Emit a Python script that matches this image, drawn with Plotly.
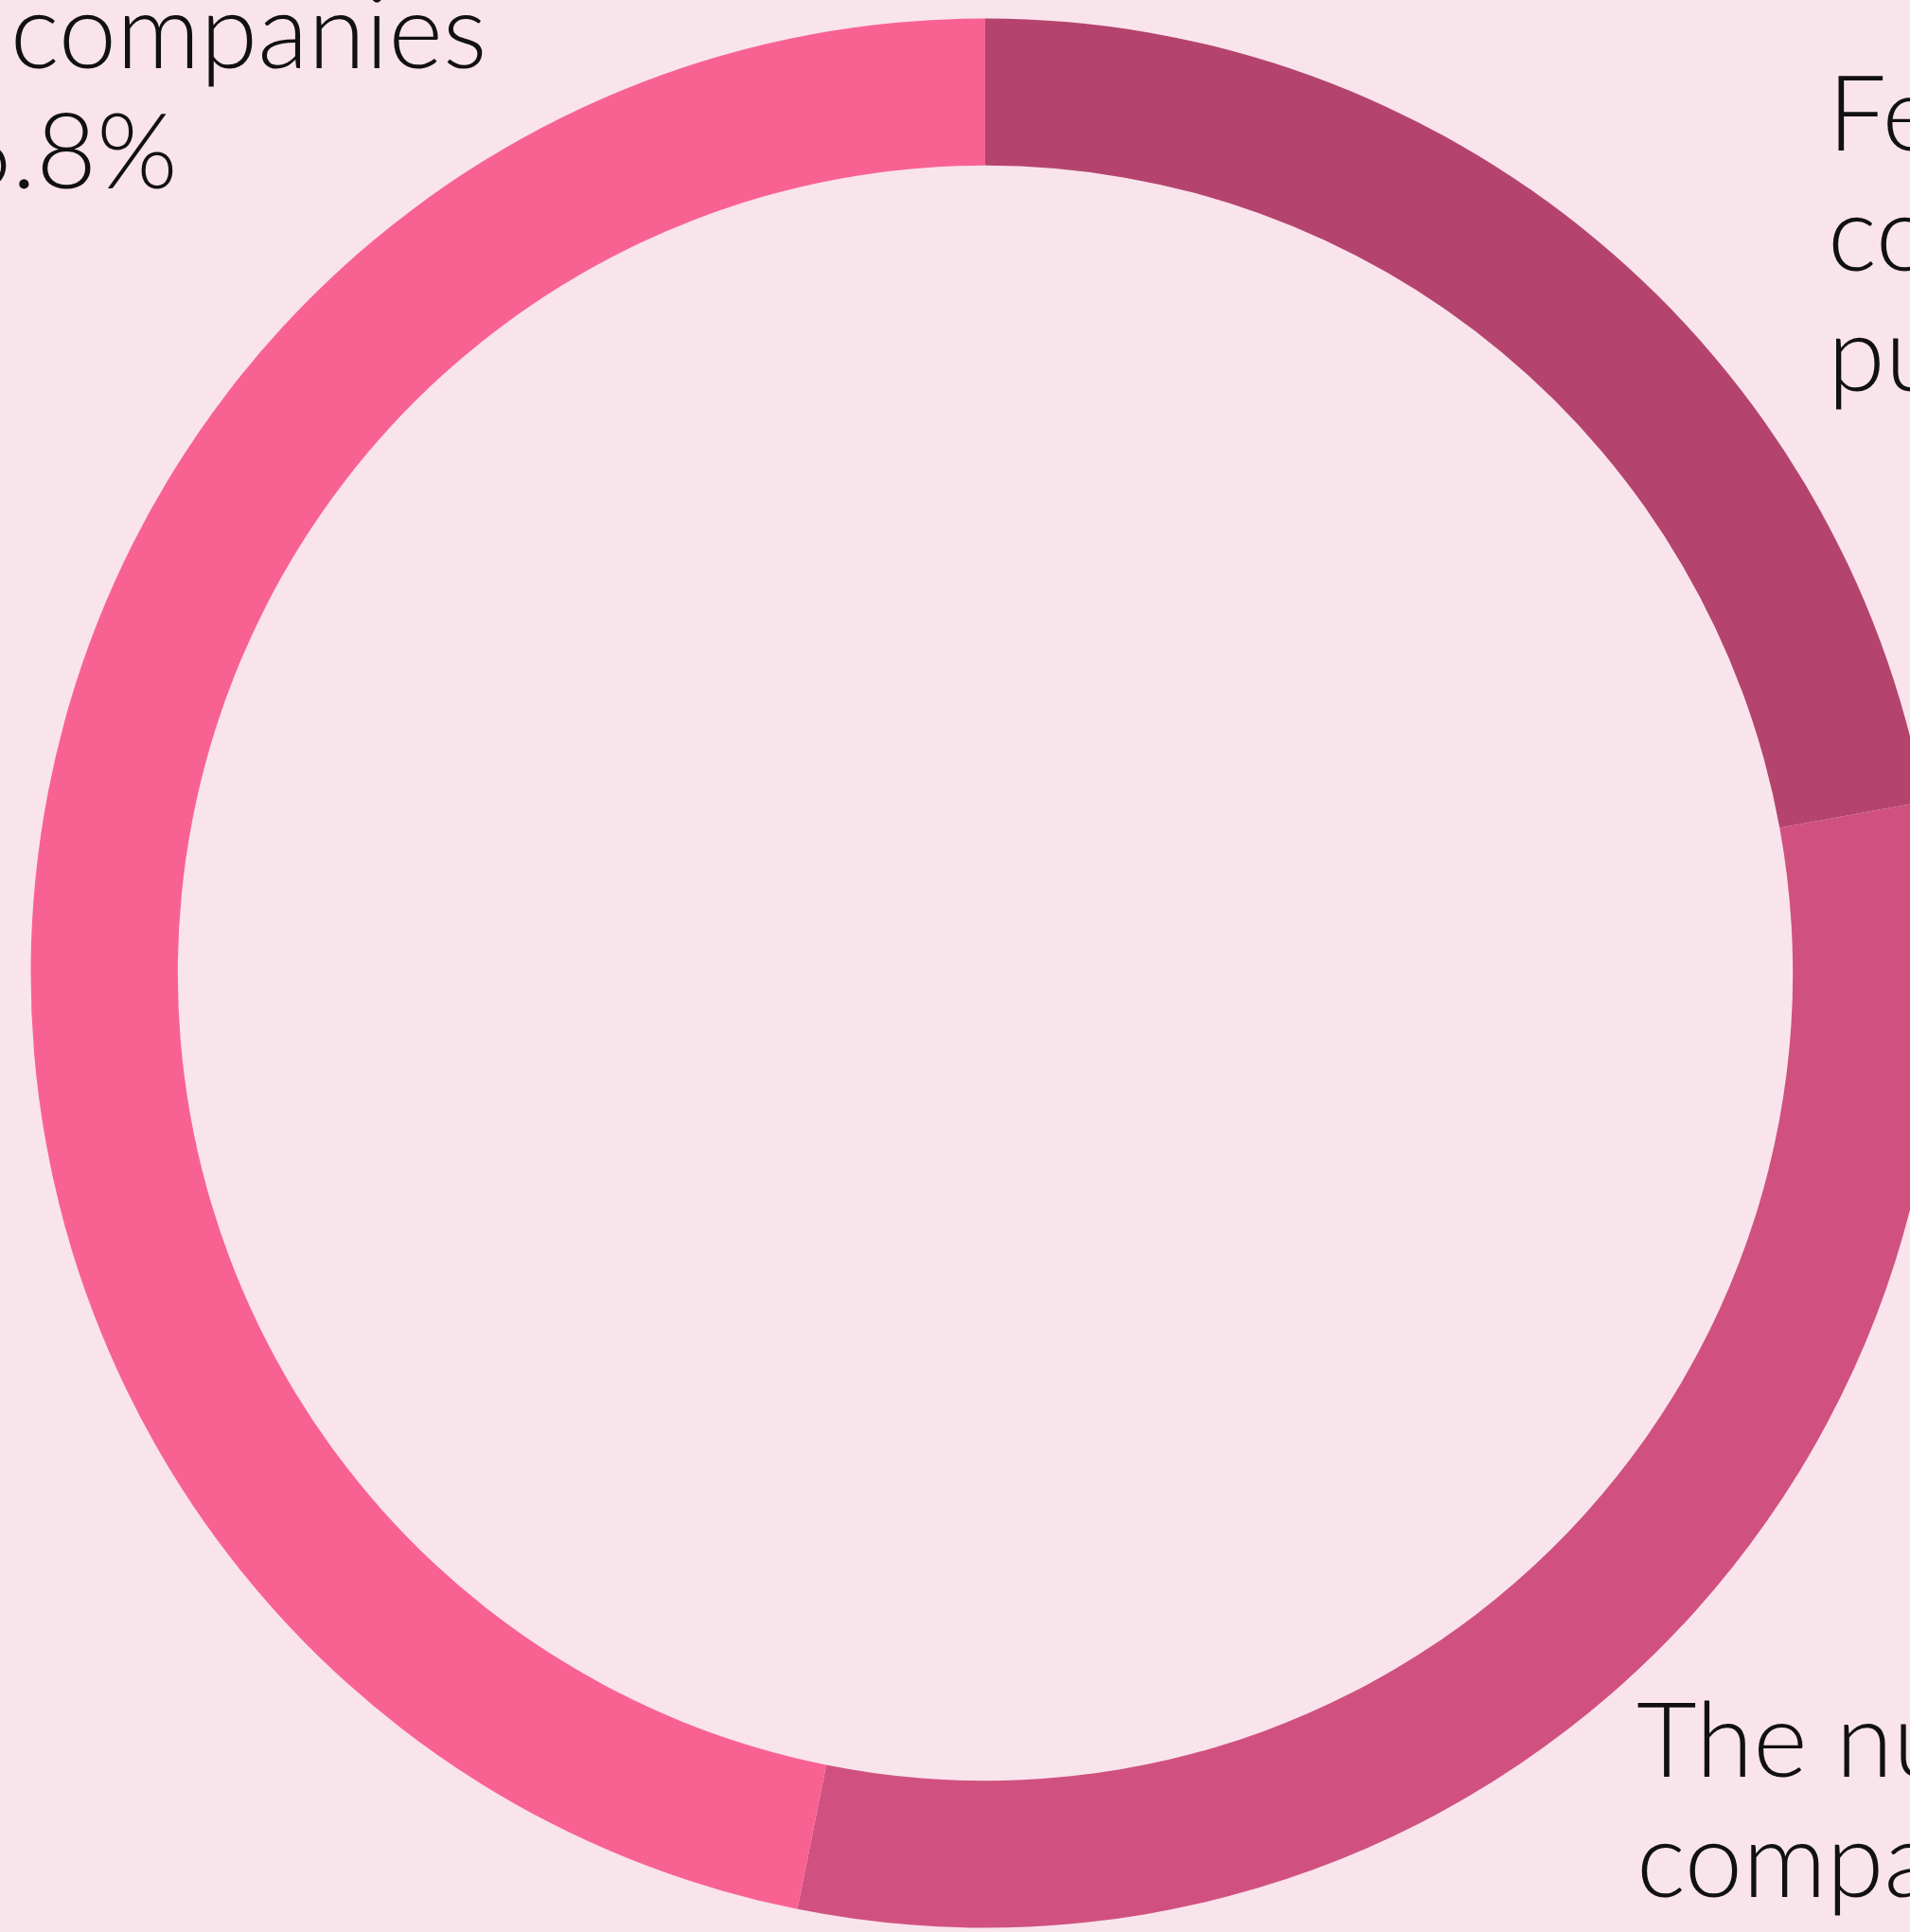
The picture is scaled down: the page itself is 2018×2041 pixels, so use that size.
import plotly.graph_objects as go

# ---- data ----
categories = ["Female-led companies", "The number of companies", "Other companies"]
values = [22.1, 31.0, 46.8]

right_label_lines = ["Female-led", "companies", "published 22.1%"]
bottom_label_lines = ["The number of", "companies with", "this data 31.0%"]
left_label_lines = ["The remaining share", "of companies", "46.8%"]

# ---- style ----
W, H = 2082, 2041
BG = "#F9E4EB"
COLORS = ["#B4446E", "#D05180", "#F86293"]
FONT = "Lato"
FS = 110
LINE = 127

fig = go.Figure()
fig.add_trace(go.Pie(
    labels=categories,
    values=values,
    sort=False,
    direction="clockwise",
    rotation=0,
    hole=0.846,
    textinfo="none",
    hoverinfo="label+percent",
    marker=dict(colors=COLORS, line=dict(width=0)),
    domain=dict(x=[0, 1], y=[(H - 2036.5) / H, (H - 19.5) / H]),
    showlegend=False,
))


def add_lines(lines, x_px, first_baseline_px):
    for i, t in enumerate(lines):
        baseline = first_baseline_px + i * LINE
        anchor_px = baseline + 0.213 * FS + 1
        fig.add_annotation(
            text=t, xref="paper", yref="paper",
            x=x_px / W, y=1 - anchor_px / H,
            xanchor="left", yanchor="bottom", showarrow=False,
            align="left",
            font=dict(family=FONT, size=FS, color="#111111", weight=300),
        )


add_lines(right_label_lines, 1929, 160)
add_lines(bottom_label_lines, 1727, 1878)
add_lines(left_label_lines, -117, 73 - LINE)

fig.update_layout(
    width=W, height=H,
    margin=dict(l=0, r=0, t=0, b=0),
    paper_bgcolor=BG, plot_bgcolor=BG,
)

fig.write_html(
    "out.html",
    post_script="document.body.style.margin='0';document.body.style.overflow='hidden';document.documentElement.style.overflow='hidden';",
)
